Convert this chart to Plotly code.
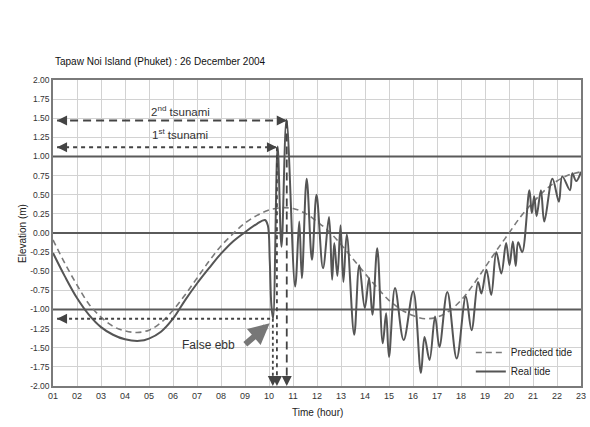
import plotly.graph_objects as go

# ---------------- data ----------------
pred_time = [1.0, 1.5, 2.0, 2.5, 3.0, 3.5, 4.0, 4.5, 5.0, 5.5, 6.0, 6.5, 7.0, 7.5,
             8.0, 8.5, 9.0, 9.5, 10.0, 10.5, 11.0, 11.5, 12.0, 12.5, 13.0, 13.5,
             14.0, 14.5, 15.0, 15.5, 16.0, 16.5, 17.0, 17.5, 18.0, 18.5, 19.0,
             19.5, 20.0, 20.5, 21.0, 21.5, 22.0, 22.5, 23.0]
pred_elev = [-0.09, -0.40, -0.68, -0.93, -1.10, -1.22, -1.28, -1.30, -1.27, -1.17,
             -1.01, -0.81, -0.59, -0.37, -0.17, -0.01, 0.13, 0.23, 0.30, 0.33,
             0.32, 0.26, 0.15, 0.02, -0.15, -0.34, -0.53, -0.71, -0.88, -1.00,
             -1.08, -1.12, -1.10, -1.02, -0.88, -0.68, -0.45, -0.22, 0.00, 0.22,
             0.40, 0.56, 0.68, 0.76, 0.80]

real_time = [1.0, 1.5, 2.0, 2.5, 3.0, 3.5, 4.0, 4.6, 5.0, 5.5, 6.0, 6.5, 7.0, 7.5,
             8.0, 8.5, 9.0, 9.5, 9.83, 9.95, 10.03, 10.1, 10.17, 10.36, 10.52,
             10.73, 11.09, 11.26, 11.37, 11.57, 11.79, 11.98, 12.25, 12.5, 12.63,
             12.72, 12.85, 12.98, 13.1, 13.24, 13.55, 13.76, 13.99, 14.17, 14.31,
             14.51, 14.74, 14.88, 15.0, 15.25, 15.61, 16.01, 16.33, 16.48, 16.69,
             16.92, 17.1, 17.43, 17.82, 18.2, 18.44, 18.71, 18.85, 19.06, 19.26,
             19.47, 19.68, 19.88, 20.02, 20.16, 20.28, 20.38, 20.55, 20.85, 20.95,
             21.05, 21.15, 21.33, 21.47, 21.81, 22.08, 22.22, 22.54, 22.64, 22.8,
             23.0]
real_elev = [-0.26, -0.57, -0.85, -1.07, -1.23, -1.33, -1.39, -1.41, -1.38, -1.29,
             -1.12, -0.88, -0.66, -0.46, -0.27, -0.11, 0.01, 0.12, 0.17, 0.10,
             -0.35, -0.95, -1.12, 1.13, -0.18, 1.48, -0.70, 0.15, -0.59, 0.71,
             -0.35, 0.50, -0.46, 0.21, -0.61, -0.13, -0.56, 0.10, -0.64, -0.02,
             -1.33, -0.42, -0.98, -0.59, -1.07, -0.20, -1.44, -1.05, -1.62, -0.72,
             -1.40, -0.76, -1.83, -1.36, -1.66, -1.09, -1.49, -0.77, -1.64, -0.83,
             -1.27, -0.64, -0.79, -0.48, -0.81, -0.25, -0.53, -0.13, -0.42, -0.11,
             -0.43, -0.12, -0.25, 0.56, 0.26, 0.48, 0.22, 0.56, 0.15, 0.71, 0.41,
             0.74, 0.56, 0.78, 0.68, 0.80]

x_tick_vals = list(range(1, 24))
x_tick_text = ["01", "02", "03", "04", "05", "06", "07", "08", "09", "10", "11", "12",
               "13", "14", "15", "16", "17", "18", "19", "20", "21", "22", "23"]
y_tick_vals = [2.0, 1.75, 1.5, 1.25, 1.0, 0.75, 0.5, 0.25, 0.0, -0.25, -0.5, -0.75,
               -1.0, -1.25, -1.5, -1.75, -2.0]
y_tick_text = ["2.00", "1.75", "1.50", "1.25", "1.00", "0.75", "0.50", "0.25", "0.00",
               "-0.25", "-0.50", "-0.75", "-1.00", "-1.25", "-1.50", "-1.75", "-2.00"]
major_levels = [1.0, 0.0, -1.0]

# event markers
arrow_start_time = 1.17
first_tsunami = (10.33, 1.12)
second_tsunami = (10.74, 1.47)
false_ebb = (10.16, -1.12)

# ---------------- figure ----------------
SANS = "Liberation Sans, Arial, sans-serif"
DARK = "#444444"

fig = go.Figure()
fig.add_trace(go.Scatter(x=pred_time, y=pred_elev, mode="lines", name="Predicted tide",
                         line=dict(color="#7a7a7a", width=1.6, dash="6px,4px",
                                   shape="spline", smoothing=1.0)))
fig.add_trace(go.Scatter(x=real_time, y=real_elev, mode="lines", name="Real tide",
                         line=dict(color="#555555", width=2, shape="spline",
                                   smoothing=1.0)))

shapes = []
for lv in major_levels:
    shapes.append(dict(type="line", xref="x", yref="y", x0=1, x1=23, y0=lv, y1=lv,
                       line=dict(color="#5a5a5a", width=2), layer="between"))

# 2nd tsunami
t2, h2 = second_tsunami
shapes.append(dict(type="line", x0=arrow_start_time, x1=t2 - 0.05, y0=h2, y1=h2,
                   line=dict(color=DARK, width=2, dash="8px,5px")))
shapes.append(dict(type="line", x0=t2, x1=t2, y0=h2, y1=-1.95,
                   line=dict(color=DARK, width=1.8, dash="8px,5px")))
# 1st tsunami
t1, h1 = first_tsunami
shapes.append(dict(type="line", x0=arrow_start_time, x1=t1 - 0.05, y0=h1, y1=h1,
                   line=dict(color=DARK, width=2, dash="4px,4px")))
shapes.append(dict(type="line", x0=t1, x1=t1, y0=h1, y1=-1.95,
                   line=dict(color=DARK, width=1.8, dash="4px,4px")))
# false ebb
te, he = false_ebb
shapes.append(dict(type="line", x0=arrow_start_time, x1=te - 0.08, y0=he, y1=he,
                   line=dict(color=DARK, width=2, dash="dot")))
shapes.append(dict(type="line", x0=te, x1=te, y0=he, y1=-1.95,
                   line=dict(color=DARK, width=1.8, dash="dot")))

def head(x, y, ax, ay):
    return dict(x=x, y=y, xref="x", yref="y", ax=ax, ay=ay, text="", showarrow=True,
                arrowhead=2, arrowsize=1, arrowwidth=2, arrowcolor=DARK, standoff=0)

annotations = [
    head(arrow_start_time, h2, 8, 0), head(t2, h2, -8, 0), head(t2, -2.0, 0, -8),
    head(arrow_start_time, h1, 8, 0), head(t1, h1, -8, 0), head(t1, -2.0, 0, -8),
    head(arrow_start_time, he, 8, 0), head(te, -2.0, 0, -8),
    dict(x=10.03, y=-1.18, ax=8.95, ay=-1.47, xref="x", yref="y", axref="x", ayref="y",
         text="", showarrow=True, arrowhead=2, arrowsize=0.7, arrowwidth=6,
         arrowcolor="#777777", standoff=0),
    dict(x=7.48, y=-1.46, xref="x", yref="y", text="False ebb", showarrow=False,
         font=dict(family=SANS, size=12, color="#333333")),
    dict(x=6.3, y=1.59, xref="x", yref="y", text="2<sup>nd</sup> tsunami", showarrow=False,
         font=dict(family=SANS, size=11.5, color="#333333")),
    dict(x=6.28, y=1.29, xref="x", yref="y", text="1<sup>st</sup> tsunami", showarrow=False,
         font=dict(family=SANS, size=11.5, color="#333333")),
    dict(x=0, y=1.059, xref="paper", yref="paper", xanchor="left", yanchor="middle",
         text="Tapaw Noi Island (Phuket) : 26 December 2004", showarrow=False,
         font=dict(family=SANS, size=10, color="#111111")),
    dict(x=-0.073, y=0.5, xref="paper", yref="paper", textangle=-90,
         text="Elevation (m)", showarrow=False,
         font=dict(family=SANS, size=10, color="#222222")),
    dict(x=0.5, y=-0.111, xref="paper", yref="paper", text="Time (hour)",
         showarrow=False, font=dict(family=SANS, size=10, color="#222222")),
]

fig.update_layout(
    width=590, height=427,
    margin=dict(l=53, r=4, t=80, b=41),
    paper_bgcolor="white", plot_bgcolor="white",
    showlegend=True,
    legend=dict(x=0.994, xanchor="right", y=0.0, yanchor="bottom",
                bgcolor="rgba(0,0,0,0)", font=dict(family=SANS, size=10, color="#222"),
                tracegroupgap=0, itemwidth=30),
    shapes=shapes, annotations=annotations,
    xaxis=dict(range=[1, 23], tickvals=x_tick_vals, ticktext=x_tick_text,
               showgrid=True, gridcolor="#d2d2d2", gridwidth=1, zeroline=False,
               showline=True, linecolor="#7a7a7a", linewidth=1.5, mirror=True,
               ticks="", tickfont=dict(family=SANS, size=9, color="#333")),
    yaxis=dict(range=[-2, 2], tickvals=y_tick_vals, ticktext=y_tick_text,
               showgrid=True, gridcolor="#d2d2d2", gridwidth=1, zeroline=False,
               showline=True, linecolor="#7a7a7a", linewidth=1.5, mirror=True,
               ticks="", tickfont=dict(family=SANS, size=8.5, color="#333")),
)

# remove the browser's default page margin so the 590x427 figure fills the window
fig.write_html("out.html",
               config={"displayModeBar": False},
               post_script="document.body.style.margin='0';"
                           "document.body.style.overflow='hidden';")
